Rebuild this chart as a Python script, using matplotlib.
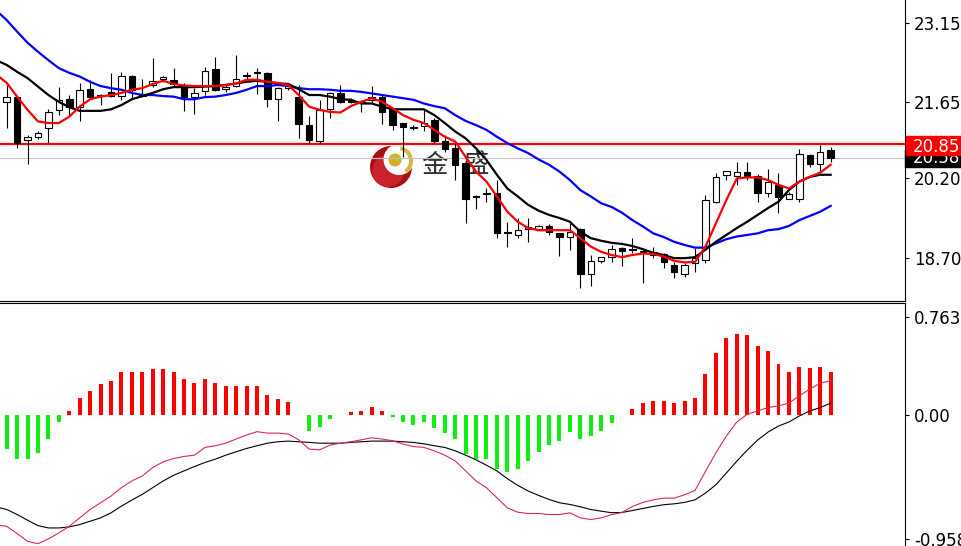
import numpy as np
import matplotlib
matplotlib.use("Agg")
import matplotlib.pyplot as plt
from matplotlib.patches import Rectangle, Circle, Wedge
from matplotlib.transforms import blended_transform_factory

# ---------------- data ----------------
opens = [21.65, 21.74, 20.93, 20.99, 21.15, 21.50, 21.70, 21.55, 21.89, 21.77,
         21.84, 21.76, 22.15, 21.80, 21.97, 22.08, 22.07, 21.95, 21.74, 21.86,
         22.27, 21.89, 21.95, 22.14, 22.20, 22.20, 21.70, 21.91, 21.75, 21.21,
         20.90, 21.51, 21.82, 21.69, 21.64, 21.69, 21.75, 21.51, 21.25, 21.18,
         21.19, 21.31, 20.90, 20.77, 20.49, 19.85, 19.90, 19.92, 19.17, 19.13,
         19.24, 19.25, 19.30, 19.16, 19.09, 19.24, 18.39, 18.64, 18.71, 18.88,
         18.86, 18.82, 18.81, 18.77, 18.56, 18.39, 18.59, 18.66, 19.76, 20.27,
         20.25, 20.33, 20.25, 19.92, 20.08, 19.82, 19.81, 20.64, 20.47, 20.73]
highs = [21.97, 21.76, 21.02, 21.09, 21.51, 21.93, 21.78, 22.01, 22.07, 21.80,
         22.19, 22.22, 22.16, 22.08, 22.48, 22.14, 22.29, 22.00, 21.91, 22.32,
         22.50, 21.97, 22.54, 22.22, 22.29, 22.22, 21.93, 22.00, 21.97, 21.38,
         21.69, 21.84, 21.97, 21.72, 21.69, 21.95, 21.79, 21.53, 21.25, 21.21,
         21.50, 21.34, 21.02, 20.87, 20.49, 19.89, 20.01, 20.18, 19.38, 19.45,
         19.45, 19.32, 19.34, 19.17, 19.40, 19.26, 18.75, 18.71, 18.94, 18.91,
         19.07, 18.85, 18.91, 18.79, 18.62, 18.59, 18.88, 19.89, 20.31, 20.35,
         20.52, 20.52, 20.29, 20.37, 20.31, 19.95, 20.75, 20.66, 20.83, 20.79]
lows = [21.16, 20.78, 20.47, 20.94, 20.88, 21.40, 21.40, 21.28, 21.70, 21.59,
        21.75, 21.69, 21.71, 21.74, 21.93, 22.03, 21.95, 21.48, 21.43, 21.78,
        21.86, 21.84, 21.93, 22.07, 21.80, 21.55, 21.28, 21.88, 20.96, 20.88,
        20.87, 21.34, 21.62, 21.62, 21.46, 21.62, 21.23, 21.11, 20.61, 21.12,
        21.09, 20.88, 20.71, 20.18, 19.36, 19.62, 19.76, 19.07, 18.90, 19.07,
        19.00, 19.22, 19.13, 18.73, 18.85, 18.12, 18.16, 18.59, 18.62, 18.54,
        18.78, 18.22, 18.69, 18.50, 18.31, 18.34, 18.42, 18.59, 19.73, 20.18,
        20.08, 20.17, 19.76, 19.84, 19.55, 19.81, 19.76, 20.42, 20.30, 20.52]
closes = [21.74, 20.88, 20.99, 21.07, 21.46, 21.69, 21.55, 21.88, 21.75, 21.78,
          21.77, 22.14, 21.88, 21.76, 22.05, 22.13, 21.99, 21.75, 21.82, 22.24,
          21.88, 21.94, 22.09, 22.14, 22.20, 21.71, 21.91, 21.95, 21.23, 20.92,
          21.50, 21.82, 21.65, 21.65, 21.62, 21.75, 21.46, 21.21, 21.17, 21.16,
          21.25, 20.90, 20.75, 20.46, 19.82, 19.84, 19.91, 19.17, 19.16, 19.22,
          19.29, 19.30, 19.19, 19.09, 19.19, 18.39, 18.64, 18.71, 18.86, 18.83,
          18.85, 18.81, 18.75, 18.61, 18.42, 18.56, 18.69, 19.79, 20.23, 20.35,
          20.33, 20.25, 19.92, 20.14, 19.84, 19.90, 20.66, 20.47, 20.71, 20.58]

# moving averages, first value belongs to the bar just before the first visible one
ma_red = [22.17,
          22.01, 21.75, 21.50, 21.28, 21.25, 21.25, 21.37, 21.56, 21.70, 21.75,
          21.78, 21.82, 21.88, 21.91, 21.99, 22.05, 21.99, 21.96, 21.95, 21.95,
          21.95, 21.97, 22.00, 22.07, 22.07, 22.03, 22.01, 21.97, 21.78, 21.56,
          21.50, 21.46, 21.45, 21.57, 21.65, 21.72, 21.65, 21.53, 21.40, 21.31,
          21.25, 21.12, 20.99, 20.90, 20.61, 20.33, 20.14, 19.86, 19.57, 19.38,
          19.26, 19.22, 19.22, 19.22, 19.22, 19.07, 18.91, 18.81, 18.75, 18.71,
          18.75, 18.78, 18.77, 18.72, 18.64, 18.61, 18.62, 18.91, 19.35, 19.79,
          20.20, 20.22, 20.22, 20.17, 20.08, 20.01, 20.14, 20.23, 20.31, 20.46]
ma_black = [22.44,
            22.35, 22.22, 22.10, 21.94, 21.78, 21.65, 21.55, 21.48, 21.48, 21.48,
            21.51, 21.59, 21.70, 21.76, 21.82, 21.89, 21.93, 21.93, 21.93, 21.94,
            21.95, 21.97, 22.00, 22.03, 22.05, 22.03, 22.00, 21.99, 21.89, 21.78,
            21.78, 21.75, 21.70, 21.69, 21.62, 21.62, 21.56, 21.51, 21.51, 21.51,
            21.51, 21.40, 21.25, 21.09, 20.96, 20.77, 20.55, 20.27, 20.01, 19.86,
            19.70, 19.59, 19.51, 19.45, 19.38, 19.19, 19.07, 19.02, 18.98, 18.96,
            18.92, 18.86, 18.79, 18.75, 18.69, 18.69, 18.71, 18.85, 19.00, 19.13,
            19.26, 19.38, 19.51, 19.64, 19.76, 19.98, 20.14, 20.23, 20.27, 20.27]
ma_blue = [23.38,
           23.20, 22.98, 22.77, 22.60, 22.44, 22.29, 22.20, 22.13, 22.03, 21.95,
           21.91, 21.88, 21.82, 21.78, 21.78, 21.76, 21.75, 21.70, 21.70, 21.74,
           21.75, 21.78, 21.82, 21.88, 21.95, 21.95, 21.97, 21.95, 21.91, 21.89,
           21.89, 21.88, 21.86, 21.86, 21.84, 21.81, 21.78, 21.75, 21.72, 21.69,
           21.62, 21.57, 21.53, 21.40, 21.29, 21.21, 21.12, 20.99, 20.87, 20.77,
           20.68, 20.56, 20.46, 20.33, 20.17, 19.98, 19.86, 19.73, 19.66, 19.55,
           19.41, 19.29, 19.16, 19.09, 19.00, 18.94, 18.89, 18.89, 18.97, 19.05,
           19.10, 19.13, 19.16, 19.22, 19.24, 19.30, 19.41, 19.49, 19.57, 19.68]

macd_hist = [-0.264, -0.341, -0.341, -0.290, -0.182, -0.054, 0.036, 0.138, 0.190, 0.241,
             0.267, 0.336, 0.336, 0.336, 0.362, 0.362, 0.336, 0.285, 0.249, 0.285,
             0.249, 0.228, 0.228, 0.228, 0.228, 0.156, 0.126, 0.105, 0.004, -0.118,
             -0.092, -0.028, 0.006, 0.028, 0.036, 0.062, 0.036, -0.015, -0.054, -0.074,
             -0.054, -0.100, -0.136, -0.182, -0.297, -0.336, -0.341, -0.418, -0.438, -0.413,
             -0.356, -0.285, -0.233, -0.200, -0.131, -0.182, -0.162, -0.118, -0.056, 0.005,
             0.051, 0.092, 0.108, 0.108, 0.092, 0.108, 0.136, 0.321, 0.482, 0.597,
             0.631, 0.623, 0.538, 0.495, 0.400, 0.333, 0.374, 0.367, 0.374, 0.333]
macd_red = [-0.85,
            -0.860, -0.917, -0.977, -0.995, -0.958, -0.912, -0.860, -0.795, -0.730, -0.678,
            -0.626, -0.561, -0.509, -0.470, -0.405, -0.361, -0.335, -0.319, -0.309, -0.249,
            -0.236, -0.216, -0.184, -0.153, -0.127, -0.138, -0.138, -0.145, -0.190, -0.262,
            -0.268, -0.231, -0.216, -0.205, -0.190, -0.174, -0.184, -0.197, -0.223, -0.242,
            -0.249, -0.275, -0.309, -0.353, -0.431, -0.509, -0.561, -0.639, -0.717, -0.751,
            -0.761, -0.761, -0.769, -0.769, -0.756, -0.795, -0.808, -0.795, -0.770, -0.753,
            -0.706, -0.675, -0.655, -0.642, -0.642, -0.616, -0.582, -0.434, -0.291, -0.161,
            -0.052, 0.008, 0.034, 0.060, 0.073, 0.094, 0.151, 0.203, 0.249, 0.268]
macd_black = [-0.71,
              -0.730, -0.769, -0.813, -0.855, -0.873, -0.873, -0.865, -0.847, -0.821, -0.795,
              -0.756, -0.704, -0.657, -0.613, -0.561, -0.509, -0.465, -0.431, -0.397, -0.366,
              -0.340, -0.309, -0.283, -0.257, -0.236, -0.216, -0.205, -0.200, -0.205, -0.210,
              -0.216, -0.216, -0.216, -0.210, -0.205, -0.200, -0.200, -0.200, -0.205, -0.210,
              -0.221, -0.236, -0.249, -0.275, -0.309, -0.345, -0.387, -0.431, -0.491, -0.543,
              -0.587, -0.621, -0.652, -0.678, -0.691, -0.709, -0.730, -0.743, -0.755, -0.753,
              -0.738, -0.722, -0.706, -0.693, -0.686, -0.675, -0.655, -0.603, -0.538, -0.447,
              -0.356, -0.270, -0.192, -0.130, -0.083, -0.052, -0.005, 0.034, 0.060, 0.094]

price_ticks = [23.15, 21.65, 20.20, 18.70]
macd_ticks = [0.763, 0.00, -0.958]
macd_tick_labels = ["0.763", "0.00", "-0.958"]
resistance = 20.85
last_price = 20.58
watermark = ["金", "盛"]

# ---------------- layout ----------------
W, H = 962, 546
fig = plt.figure(figsize=(W / 100, H / 100), dpi=100)
fig.patch.set_facecolor("white")


def fx(p):
    return p / W


def fy(p):
    return 1 - p / H


ax = fig.add_axes([0, fy(301), fx(905), fy(0) - fy(301)])
ax2 = fig.add_axes([0, 0, fx(905), fy(303)])
for a in (ax, ax2):
    a.set_facecolor("none")
    a.set_zorder(2)
    a.set_xlim(-0.642, 86.13)
    a.set_xticks([])
    a.yaxis.tick_right()
    a.spines["left"].set_visible(False)
    a.spines["right"].set_linewidth(0.8)
    a.tick_params(axis="y", length=3, width=0.8, pad=3.5, labelsize=12,
                  colors="black", direction="out")
ax.spines["top"].set_visible(False)
ax.spines["bottom"].set_linewidth(0.8)
ax2.spines["bottom"].set_visible(False)
ax2.spines["top"].set_linewidth(0.8)

ax.set_ylim(17.879, 23.58)
ax2.set_ylim(-1.013, 0.8705)

# ---------------- watermark ----------------
lax = fig.add_axes([fx(365), fy(192), fx(135), (192 - 140) / H])
lax.set_zorder(1)
lax.set_xlim(365, 500)
lax.set_ylim(192, 140)
lax.axis("off")
lax.add_patch(Circle((391, 167), 21, color="#a80e16", lw=0))
lax.add_patch(Circle((388, 171), 16, color="#c8222a", lw=0))
lax.add_patch(Circle((399, 159.5), 15.5, color="white", lw=0))
lax.add_patch(Wedge((398, 161), 15, -80, 55, width=4, color="#d9b441", lw=0))
lax.add_patch(Circle((395, 160), 6.5, color="#d4b12a", lw=0))
lax.text(434, 165, watermark[0], fontsize=19, color="#2e2e2e",
         family=["Noto Sans CJK SC", "DejaVu Sans"], ha="center", va="center")
lax.text(476, 165, watermark[1], fontsize=19, color="#2e2e2e",
         family=["Noto Sans CJK SC", "DejaVu Sans"], ha="center", va="center")

# ---------------- main panel ----------------
x = np.arange(len(opens))
o = np.array(opens)
c = np.array(closes)
h = np.array(highs)
l = np.array(lows)
bull = c >= o
one_px = (23.58 - 17.879) / 301.0

ax.axhline(last_price, color="#c0c0c0", lw=0.8, zorder=1)
ax.axhline(resistance, color="#ff0000", lw=1.6, zorder=1)

ax.vlines(x, l, h, color="black", lw=0.8, zorder=3)
ax.bar(x, np.maximum(np.abs(c - o), one_px), bottom=np.minimum(o, c), width=0.62,
       color=np.where(bull, "white", "black"), edgecolor="black", linewidth=0.8,
       zorder=4)

mx = np.arange(-1, len(opens))
ax.plot(mx, ma_blue, color="#0000ff", lw=1.6, zorder=5)
ax.plot(mx, ma_black, color="black", lw=1.6, zorder=6)
ax.plot(mx, ma_red, color="#ff0000", lw=1.6, zorder=7)

ax.set_yticks(price_ticks)
ax.set_yticklabels([f"{v:.2f}" for v in price_ticks])

# price labels at right
tr = blended_transform_factory(ax.transAxes, ax.transData)
bw = (W - 905) / 905.0
ax.add_patch(Rectangle((1.0, last_price - 9 * one_px), bw, 17.5 * one_px,
                       transform=tr, clip_on=False, color="black", zorder=10))
ax.text(1.0 + 8 / 905, last_price, f"{last_price:.2f}", transform=tr,
        clip_on=False, color="white", fontsize=12, ha="left", va="center",
        zorder=11)
ax.add_patch(Rectangle((1.0 + 1 / 905, resistance - 10.5 * one_px), bw,
                       18.6 * one_px, transform=tr, clip_on=False,
                       color="#ff0000", zorder=12))
ax.text(1.0 + 8 / 905, resistance - 3 * one_px, f"{resistance:.2f}",
        transform=tr, clip_on=False, color="white", fontsize=12, ha="left",
        va="center", zorder=13)

# ---------------- MACD panel ----------------
hist = np.array(macd_hist)
ax2.bar(x, hist, width=0.38, color=np.where(hist >= 0, "#ff0000", "#11ee11"),
        linewidth=0, zorder=2)
ax2.plot(mx, macd_black, color="black", lw=0.8, zorder=3)
ax2.plot(mx, macd_red, color="#dc2a4a", lw=0.8, zorder=4)
ax2.set_yticks(macd_ticks)
ax2.set_yticklabels(macd_tick_labels)

fig.savefig("out.png", dpi=100, facecolor="white")
